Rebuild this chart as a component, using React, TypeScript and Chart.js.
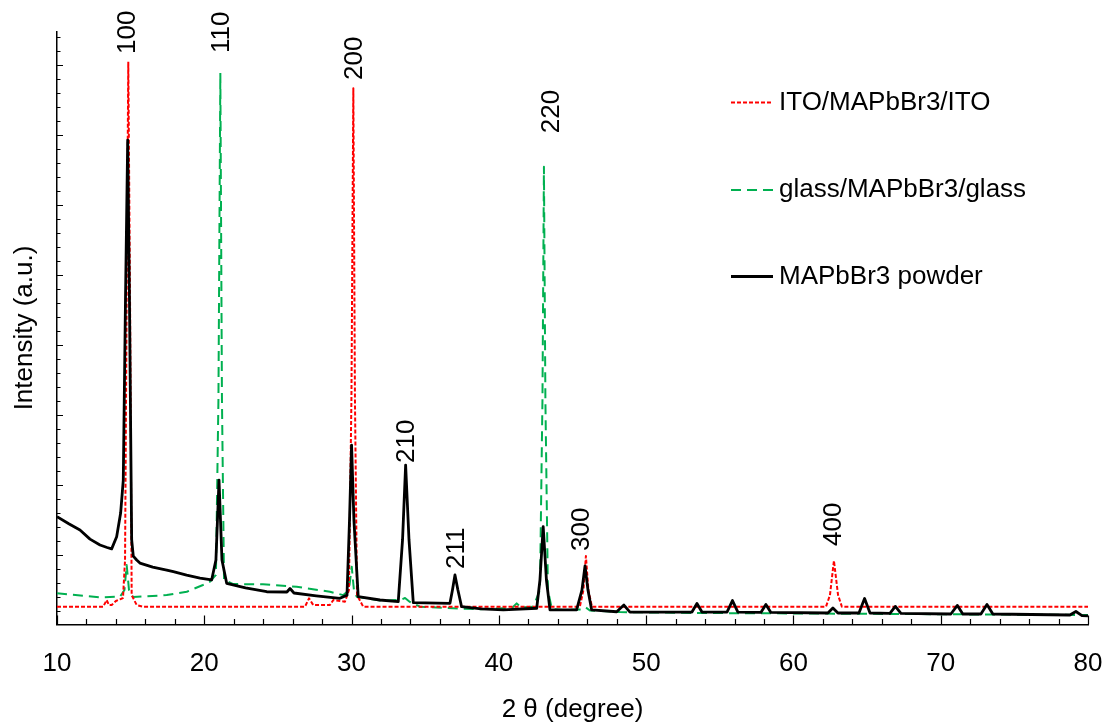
import { useEffect, useRef } from 'react';
import { Chart, registerables } from 'chart.js';

Chart.register(...registerables);

// XRD patterns: [2θ (degree), intensity (a.u.)]
const powderPattern: [number, number][] = [
  [10.0, 7.7], [10.8, 7.2], [11.56, 6.75], [12.24, 6.1], [12.92, 5.68], [13.4, 5.5], [13.71, 5.4],
  [14.05, 6.27], [14.32, 7.96], [14.5, 10.32], [14.65, 23.2], [14.8, 34.6], [14.92, 23.2],
  [15.07, 6.04], [15.18, 4.89], [15.41, 4.61], [15.63, 4.39], [16.5, 4.1], [17.45, 3.89],
  [17.9, 3.77], [18.8, 3.52], [19.71, 3.32], [20.5, 3.18], [20.79, 4.61], [21.0, 10.32],
  [21.2, 4.61], [21.52, 2.94], [22.8, 2.62], [24.24, 2.34], [25.61, 2.32], [25.82, 2.57],
  [26.09, 2.25], [27.6, 2.05], [29.21, 1.87], [29.69, 2.1], [29.86, 7.46], [30.0, 12.82],
  [30.16, 7.46], [30.45, 1.99], [31.93, 1.75], [33.17, 1.63], [33.46, 6.04], [33.67, 11.39],
  [33.9, 6.04], [34.19, 1.56], [36.68, 1.51], [36.85, 2.46], [37.02, 3.54], [37.22, 2.46],
  [37.47, 1.27], [38.8, 1.12], [40.3, 1.04], [42.57, 1.16], [42.79, 3.18], [43.01, 6.99],
  [43.23, 3.18], [43.47, 1.04], [45.28, 1.04], [45.64, 2.46], [45.85, 4.18], [46.05, 2.46],
  [46.3, 1.04], [48.0, 0.91], [48.49, 1.39], [48.9, 0.89], [53.11, 0.89], [53.45, 1.5],
  [53.79, 0.89], [55.49, 0.89], [55.86, 1.71], [56.23, 0.89], [57.79, 0.86], [58.13, 1.43],
  [58.47, 0.86], [62.34, 0.82], [62.68, 1.18], [63.02, 0.82], [64.45, 0.82], [64.83, 1.86],
  [65.2, 0.82], [66.55, 0.79], [66.92, 1.29], [67.3, 0.79], [70.69, 0.75], [71.13, 1.36],
  [71.5, 0.75], [72.73, 0.75], [73.14, 1.43], [73.54, 0.75], [78.77, 0.68], [79.18, 0.93],
  [79.59, 0.64], [80.0, 0.61],
];

const itoPattern: [number, number][] = [
  [10.0, 1.27], [13.14, 1.27], [13.37, 1.75], [13.53, 1.39], [13.71, 1.39], [14.0, 1.68],
  [14.28, 1.8], [14.48, 1.89], [14.62, 4.61], [14.73, 23.2], [14.84, 40.2], [14.96, 23.2],
  [15.07, 2.1], [15.41, 1.39], [15.84, 1.27], [26.84, 1.27], [27.11, 1.87], [27.4, 1.39],
  [28.53, 1.39], [28.76, 1.75], [29.55, 1.63], [29.82, 2.46], [29.99, 16.04], [30.12, 38.3],
  [30.23, 16.04], [30.37, 2.1], [30.79, 1.27], [45.5, 1.27], [45.74, 2.46], [45.91, 4.89],
  [46.08, 2.46], [46.32, 1.27], [62.21, 1.27], [62.48, 2.1], [62.75, 4.56], [63.03, 2.1],
  [63.29, 1.27], [80.0, 1.27],
];

const glassPattern: [number, number][] = [
  [10.0, 2.23], [12.92, 1.94], [14.28, 1.99], [14.58, 2.46], [14.73, 4.25], [14.89, 2.46],
  [15.16, 1.96], [17.45, 2.1], [18.81, 2.34], [19.91, 2.82], [20.39, 3.06], [20.79, 3.54],
  [20.96, 16.04], [21.09, 39.4], [21.2, 16.04], [21.34, 3.18], [21.97, 2.89], [23.98, 2.87],
  [26.27, 2.7], [28.53, 2.34], [29.44, 2.1], [29.82, 2.46], [30.01, 4.13], [30.16, 2.46],
  [30.35, 1.99], [31.93, 1.71], [33.29, 1.75], [33.63, 1.89], [33.96, 1.61], [34.64, 1.27],
  [36.88, 1.16], [38.72, 1.09], [40.89, 1.18], [41.21, 1.51], [41.5, 1.21], [42.34, 1.27],
  [42.79, 2.46], [42.96, 16.04], [43.06, 32.7], [43.16, 16.04], [43.33, 2.46], [43.6, 1.11],
  [44.35, 1.04], [45.71, 1.07], [45.91, 1.21], [46.18, 1.0], [48.22, 0.89], [53.65, 0.82],
  [60.44, 0.79], [67.23, 0.75], [74.02, 0.71], [80.0, 0.68],
];

const seriesNames = ['ITO/MAPbBr3/ITO', 'glass/MAPbBr3/glass', 'MAPbBr3 powder'];
const seriesColors = ['#ff0000', '#00b050', '#000000'];
const seriesDashes = [[4, 2], [10, 6], []];
const seriesWidths = [2, 2, 2.8];

// Miller indices of the reflections and where their labels sit
const peakLabels = ['100', '110', '200', '210', '211', '220', '300', '400'];
const peakAngles = [14.82, 21.18, 30.23, 33.74, 37.14, 43.58, 45.62, 62.75];
const peakLabelLevels = [40.75, 40.83, 38.9, 11.54, 3.96, 35.1, 5.25, 5.61];

const X_MIN = 10;
const X_MAX = 80;
const Y_MIN = 0;
const Y_MAX = 42.36;

const FONT = "'Liberation Sans', Arial, sans-serif";

const toPoints = (arr: [number, number][]) => arr.map(([x, y]) => ({ x, y }));

const decorPlugin = {
  id: 'xrdDecor',
  afterDraw(chart: any) {
    const { ctx, scales, chartArea } = chart;
    const xs = scales.x;
    const ys = scales.y;
    ctx.save();

    // inward tick marks
    ctx.strokeStyle = '#000';
    ctx.lineWidth = 1.2;
    ctx.beginPath();
    for (let v = X_MIN; v <= X_MAX; v += 2) {
      const px = Math.round(xs.getPixelForValue(v)) + 0.5;
      const len = v % 10 === 0 ? 9 : 5.5;
      ctx.moveTo(px, chartArea.bottom);
      ctx.lineTo(px, chartArea.bottom - len);
    }
    for (let v = 1; v <= Math.floor(Y_MAX); v += 1) {
      const py = Math.round(ys.getPixelForValue(v)) + 0.5;
      const len = v % 5 === 0 ? 6 : 3.5;
      ctx.moveTo(chartArea.left, py);
      ctx.lineTo(chartArea.left + len, py);
    }
    ctx.stroke();

    // reflection labels
    ctx.fillStyle = '#000';
    ctx.font = `26px ${FONT}`;
    ctx.textAlign = 'left';
    ctx.textBaseline = 'middle';
    peakLabels.forEach((label, i) => {
      const px = xs.getPixelForValue(peakAngles[i]);
      const py = ys.getPixelForValue(peakLabelLevels[i]);
      ctx.save();
      ctx.translate(px, py);
      ctx.rotate(-Math.PI / 2);
      ctx.fillText(label, 0, 0);
      ctx.restore();
    });

    // legend
    const legendRows = [102.5, 190, 276.5];
    seriesNames.forEach((name, i) => {
      const y = legendRows[i];
      ctx.beginPath();
      ctx.setLineDash(seriesDashes[i]);
      ctx.strokeStyle = seriesColors[i];
      ctx.lineWidth = seriesWidths[i];
      ctx.moveTo(731, y);
      ctx.lineTo(773, y);
      ctx.stroke();
      ctx.setLineDash([]);
      ctx.fillStyle = '#000';
      ctx.fillText(name, 779, y);
    });

    ctx.restore();
  },
};

export default function App() {
  const canvasRef = useRef<HTMLCanvasElement | null>(null);

  useEffect(() => {
    if (!canvasRef.current) return;
    Chart.defaults.font.family = FONT;

    const order = [2, 0, 1];
    const patterns = [itoPattern, glassPattern, powderPattern];
    const datasets = order.map((i) => ({
      label: seriesNames[i],
      data: toPoints(patterns[i]),
      borderColor: seriesColors[i],
      borderWidth: seriesWidths[i],
      borderDash: seriesDashes[i],
      borderJoinStyle: 'round',
      pointRadius: 0,
      tension: 0,
      fill: false,
    }));

    const chart = new Chart(canvasRef.current, {
      type: 'line',
      data: { datasets },
      options: {
        animation: false,
        responsive: false,
        maintainAspectRatio: false,
        layout: { padding: { top: 31.5, right: 22, bottom: 0, left: 0 } },
        plugins: {
          legend: { display: false },
          tooltip: { enabled: false },
        },
        scales: {
          x: {
            type: 'linear',
            min: X_MIN,
            max: X_MAX,
            ticks: { stepSize: 10, padding: 24, color: '#000', font: { size: 26 } },
            grid: { display: false, drawTicks: false },
            border: { display: true, color: '#000', width: 1.5 },
            title: {
              display: true,
              text: '2 θ (degree)',
              color: '#000',
              font: { size: 26 },
              padding: { top: 0, bottom: 1 },
            },
            afterFit: (scale: any) => {
              scale.height = 101.5;
              scale.paddingLeft = 0;
              scale.paddingRight = 0;
            },
          },
          y: {
            type: 'linear',
            min: Y_MIN,
            max: Y_MAX,
            ticks: { display: false },
            grid: { display: false, drawTicks: false },
            border: { display: true, color: '#000', width: 1.5 },
            title: {
              display: true,
              text: 'Intensity (a.u.)',
              color: '#000',
              font: { size: 26 },
              padding: { top: 9.6, bottom: 0 },
            },
            afterFit: (scale: any) => {
              scale.width = 57;
              scale.paddingTop = 0;
              scale.paddingBottom = 0;
            },
          },
        },
      },
      plugins: [decorPlugin],
    } as any);

    return () => chart.destroy();
  }, []);

  return (
    <div style={{ position: 'absolute', left: 0, top: 0, width: 1110, height: 726, background: '#fff' }}>
      <canvas ref={canvasRef} width={1110} height={726} style={{ display: 'block' }} />
    </div>
  );
}
